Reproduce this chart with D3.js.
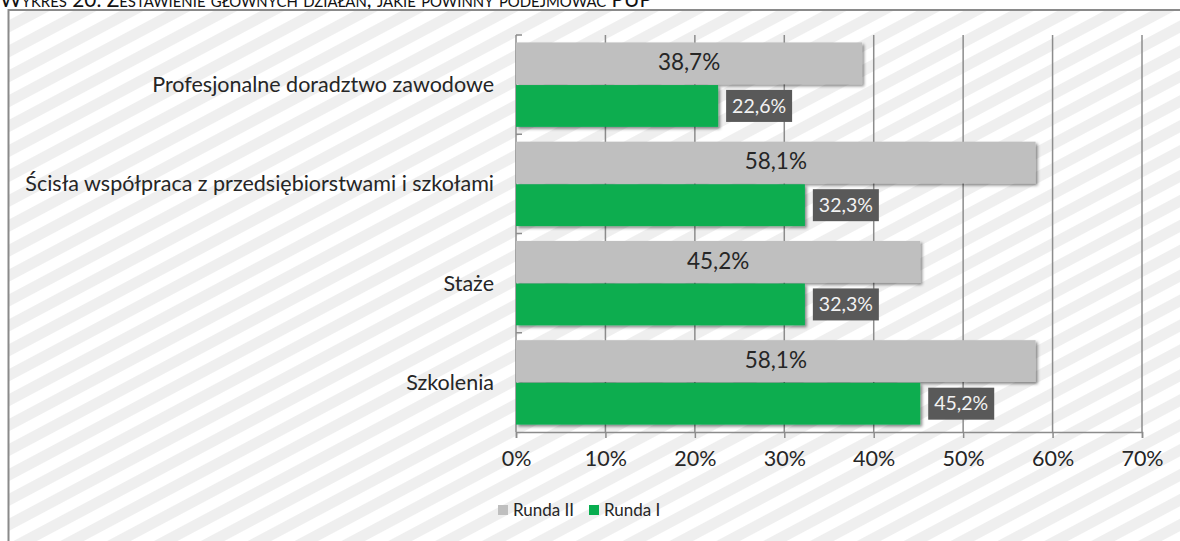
<!DOCTYPE html>
<html>
<head>
<meta charset="utf-8">
<script src="https://cdn.jsdelivr.net/npm/d3@7"></script>
<style>
  body { margin: 0; background: #fff; }
  svg { display: block; }
  text { font-family: Lato, "Open Sans", sans-serif; }
</style>
</head>
<body>
<div id="app"></div>
<script>
var categories = ['Profesjonalne doradztwo zawodowe',
                  'Ścisła współpraca z przedsiębiorstwami i szkołami',
                  'Staże',
                  'Szkolenia'];
var series = ['Runda II', 'Runda I'];
var runda2 = [38.7, 58.1, 45.2, 58.1];
var runda1 = [22.6, 32.3, 32.3, 45.2];
var ticks = [0, 10, 20, 30, 40, 50, 60, 70];
var title = 'Wykres 20. Zestawienie głównych działań, jakie powinny podejmować PUP';

var width = 1180,
    height = 541,
    plotLeft = 516,
    plotRight = 1142,
    plotTop = 35,
    plotBottom = 432,
    gray = '#bfbfbf',
    green = '#08ad4f',
    ink = '#262626',
    fontSize = 21.5;

var svg = d3.select('#app').append('svg')
            .attr('width', width)
            .attr('height', height);

var defs = svg.append('defs');

var stripes = defs.append('pattern')
                  .attr('id', 'stripes')
                  .attr('patternUnits', 'userSpaceOnUse')
                  .attr('width', 22)
                  .attr('height', 22)
                  .attr('patternTransform', 'rotate(-28)');
stripes.append('rect').attr('width', 22).attr('height', 22).attr('fill', '#fff');
stripes.append('rect').attr('width', 22).attr('height', 11).attr('fill', '#efefef');

var shadow = defs.append('filter')
                 .attr('id', 'shadow')
                 .attr('x', '-5%').attr('y', '-20%')
                 .attr('width', '115%').attr('height', '150%');
shadow.append('feDropShadow')
      .attr('dx', 2).attr('dy', 2)
      .attr('stdDeviation', 1.5)
      .attr('flood-color', '#000')
      .attr('flood-opacity', 0.45);

// title, half cut off by the top edge
svg.append('text')
   .attr('x', 0)
   .attr('y', 7)
   .attr('font-size', 21)
   .style('font-variant', 'small-caps')
   .attr('textLength', 652)
   .attr('lengthAdjust', 'spacingAndGlyphs')
   .attr('fill', '#111')
   .text(title);

// chart frame
svg.append('rect')
   .attr('x', 8.5)
   .attr('y', 10)
   .attr('width', width + 20)
   .attr('height', height + 20)
   .attr('fill', 'url(#stripes)')
   .attr('stroke', '#8a8a8a')
   .attr('stroke-width', 2);

var x = d3.scaleLinear().domain([0, 70]).range([plotLeft, plotRight]);
var y0 = d3.scaleBand().domain(categories).range([plotTop, plotBottom])
           .paddingInner(0.15).paddingOuter(0.075);
var y1 = d3.scaleBand().domain(series).range([0, y0.bandwidth()]).paddingInner(0.02);

// gridlines
svg.append('g')
   .selectAll('line')
   .data(ticks.slice(1))
   .join('line')
   .attr('x1', function(d) { return x(d); })
   .attr('x2', function(d) { return x(d); })
   .attr('y1', plotTop)
   .attr('y2', plotBottom)
   .attr('stroke', '#8c8c8c')
   .attr('stroke-width', 1.5);

// axes
var xAxis = svg.append('g')
               .attr('transform', 'translate(0,' + plotBottom + ')')
               .call(d3.axisBottom(x).tickValues(ticks).tickSize(6).tickPadding(13)
                       .tickFormat(function(d) { return d + '%'; }));
xAxis.select('.domain').attr('stroke', '#8c8c8c').attr('stroke-width', 1.5);
xAxis.selectAll('.tick line').attr('stroke', '#8c8c8c').attr('stroke-width', 1.5);
xAxis.selectAll('.tick text')
     .attr('font-size', fontSize)
     .attr('fill', ink)
     .style('font-family', 'Lato, sans-serif');

var yEdges = d3.scaleLinear().domain([0, categories.length]).range([plotTop, plotBottom]);
svg.append('line')
   .attr('x1', plotLeft).attr('x2', plotLeft)
   .attr('y1', plotTop).attr('y2', plotBottom)
   .attr('stroke', '#8c8c8c').attr('stroke-width', 1.5);
svg.append('g')
   .selectAll('line')
   .data(d3.range(categories.length))
   .join('line')
   .attr('x1', plotLeft).attr('x2', plotLeft + 6)
   .attr('y1', function(d) { return yEdges(d); })
   .attr('y2', function(d) { return yEdges(d); })
   .attr('stroke', '#8c8c8c').attr('stroke-width', 1.5);

// category labels
svg.append('g')
   .selectAll('text')
   .data(categories)
   .join('text')
   .attr('x', plotLeft - 22)
   .attr('y', function(d) { return y0(d) + y0.bandwidth() / 2; })
   .attr('dy', '0.35em')
   .attr('text-anchor', 'end')
   .attr('font-size', fontSize)
   .attr('fill', ink)
   .text(function(d) { return d; });

var rows = categories.map(function(c, i) {
  return { cat: c, values: [ { s: 'Runda II', v: runda2[i] }, { s: 'Runda I', v: runda1[i] } ] };
});
var fmt = function(v) { return v.toFixed(1).replace('.', ',') + '%'; };

var groups = svg.append('g')
                .selectAll('g')
                .data(rows)
                .join('g')
                .attr('transform', function(d) { return 'translate(0,' + y0(d.cat) + ')'; });

groups.selectAll('rect')
      .data(function(d) { return d.values; })
      .join('rect')
      .attr('x', x(0))
      .attr('y', function(d) { return y1(d.s); })
      .attr('width', function(d) { return x(d.v) - x(0); })
      .attr('height', y1.bandwidth())
      .attr('fill', function(d) { return d.s === 'Runda II' ? gray : green; })
      .attr('filter', 'url(#shadow)');

// Runda II labels, centred in bar
groups.append('text')
      .attr('x', function(d) { return (x(0) + x(d.values[0].v)) / 2; })
      .attr('y', y1('Runda II') + y1.bandwidth() / 2 - 1)
      .attr('dy', '0.35em')
      .attr('text-anchor', 'middle')
      .attr('font-size', fontSize + 1)
      .attr('fill', ink)
      .text(function(d) { return fmt(d.values[0].v); });

// Runda I labels, dark boxes right of bar
var boxW = 66, boxH = 32;
groups.append('rect')
      .attr('x', function(d) { return x(d.values[1].v) + 8; })
      .attr('y', y1('Runda I') + y1.bandwidth() / 2 - boxH / 2)
      .attr('width', boxW)
      .attr('height', boxH)
      .attr('fill', '#595959');
groups.append('text')
      .attr('x', function(d) { return x(d.values[1].v) + 8 + boxW / 2; })
      .attr('y', y1('Runda I') + y1.bandwidth() / 2)
      .attr('dy', '0.35em')
      .attr('text-anchor', 'middle')
      .attr('font-size', 19.5)
      .attr('fill', '#f2f2f2')
      .text(function(d) { return fmt(d.values[1].v); });

// legend
var legend = svg.append('g').attr('transform', 'translate(498,510)');
var lx = [0, 91];
legend.selectAll('rect')
      .data(series)
      .join('rect')
      .attr('x', function(d, i) { return lx[i]; })
      .attr('y', -5)
      .attr('width', 10)
      .attr('height', 10)
      .attr('fill', function(d, i) { return i === 0 ? gray : green; });
legend.selectAll('text')
      .data(series)
      .join('text')
      .attr('x', function(d, i) { return lx[i] + 15; })
      .attr('y', 0)
      .attr('dy', '0.35em')
      .attr('font-size', 17)
      .attr('fill', ink)
      .text(function(d) { return d; });
</script>
</body>
</html>
